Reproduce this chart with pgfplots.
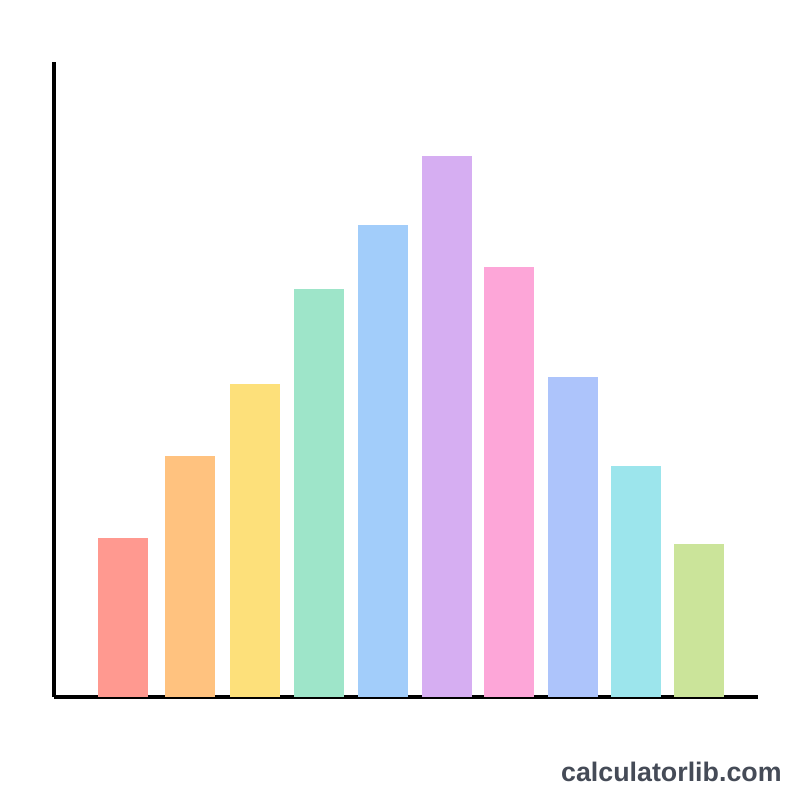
\documentclass[border=0pt]{standalone}
\usepackage{pgfplots}
\pgfplotsset{compat=1.18}
\usepackage{fontspec}
\setmainfont{Liberation Sans}
\usetikzlibrary{backgrounds}
\definecolor{c1}{HTML}{FF9990}
\definecolor{c2}{HTML}{FFC27F}
\definecolor{c3}{HTML}{FDE07A}
\definecolor{c4}{HTML}{9EE5C9}
\definecolor{c5}{HTML}{A2CDFA}
\definecolor{c6}{HTML}{D6AEF2}
\definecolor{c7}{HTML}{FDA6D8}
\definecolor{c8}{HTML}{ADC4FB}
\definecolor{c9}{HTML}{9CE5EC}
\definecolor{c10}{HTML}{CBE49A}
\definecolor{wm}{HTML}{454B57}
\begin{document}
\begin{tikzpicture}
\begin{axis}[
  x=0.5pt, y=0.5pt,
  xmin=54, xmax=758, ymin=0, ymax=635,
  axis x line=bottom, axis y line=left,
  axis line style={-, line width=2pt, black},
  ticks=none,
  clip=false,
  ybar, bar shift=0pt, bar width=50,
]
\addplot[fill=c1, draw=none] coordinates {(123.5,159)};
\addplot[fill=c2, draw=none] coordinates {(190.5,241)};
\addplot[fill=c3, draw=none] coordinates {(255.5,313)};
\addplot[fill=c4, draw=none] coordinates {(319,408)};
\addplot[fill=c5, draw=none] coordinates {(383.5,472)};
\addplot[fill=c6, draw=none] coordinates {(447,541)};
\addplot[fill=c7, draw=none] coordinates {(509,430)};
\addplot[fill=c8, draw=none] coordinates {(572.5,320)};
\addplot[fill=c9, draw=none] coordinates {(635.5,231)};
\addplot[fill=c10, draw=none] coordinates {(698.5,153)};
\coordinate (bl) at (rel axis cs:0,0);
\end{axis}
\pgfresetboundingbox
\path[use as bounding box] ([xshift=-27pt,yshift=-51.5pt]bl) rectangle ([xshift=373pt,yshift=348.5pt]bl);
\begin{scope}[on background layer]
\fill[white] ([xshift=-27pt,yshift=-51.5pt]bl) rectangle ([xshift=373pt,yshift=348.5pt]bl);
\end{scope}
\node[anchor=east, text=wm, font=\fontsize{13.4}{16}\selectfont\bfseries, inner sep=0pt] at ([xshift=364pt,yshift=-37.5pt]bl) {calculatorlib.com};
\end{tikzpicture}
\end{document}
